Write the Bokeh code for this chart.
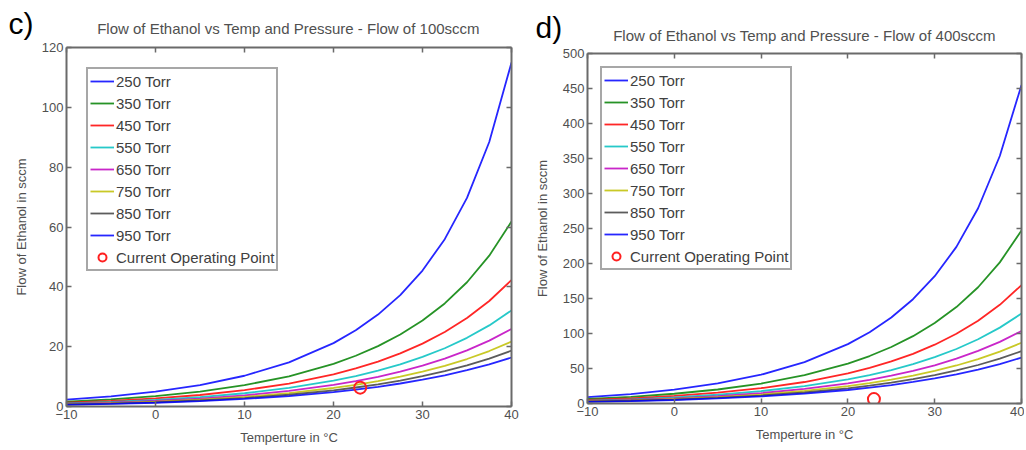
from bokeh.plotting import figure
from bokeh.models import LinearAxis, Range1d, Legend, LegendItem, FixedTicker
from bokeh.core.properties import value
from bokeh.layouts import row, column
from bokeh.embed import file_html
from bokeh.resources import INLINE

# ---------------- data ----------------
temps = [-10, -5, 0, 5, 10, 15, 20, 22.5, 25, 27.5, 30, 32.5, 35, 37.5, 40]
pressures = ["250 Torr", "350 Torr", "450 Torr", "550 Torr", "650 Torr", "750 Torr", "850 Torr", "950 Torr"]

# panel c) carrier flow 100 sccm
c_250 = [2.28, 3.38, 4.94, 7.15, 10.28, 14.74, 21.19, 25.46, 30.73, 37.25, 45.45, 55.93, 69.72, 88.40, 114.96]
c_350 = [1.62, 2.39, 3.48, 5.00, 7.14, 10.10, 14.27, 16.96, 20.18, 24.05, 28.73, 34.44, 41.53, 50.41, 61.81]
c_450 = [1.26, 1.85, 2.69, 3.85, 5.46, 7.68, 10.76, 12.71, 15.02, 17.75, 21.01, 24.89, 29.57, 35.26, 42.27]
c_550 = [1.02, 1.51, 2.19, 3.13, 4.43, 6.20, 8.63, 10.16, 11.96, 14.07, 16.56, 19.48, 22.96, 27.11, 32.12]
c_650 = [0.87, 1.27, 1.84, 2.63, 3.72, 5.20, 7.21, 8.47, 9.94, 11.66, 13.66, 16.00, 18.76, 22.02, 25.90]
c_750 = [0.75, 1.10, 1.59, 2.27, 3.21, 4.47, 6.19, 7.26, 8.50, 9.95, 11.63, 13.58, 15.87, 18.54, 21.69]
c_850 = [0.66, 0.97, 1.40, 2.00, 2.82, 3.93, 5.42, 6.35, 7.43, 8.67, 10.12, 11.79, 13.74, 16.01, 18.67]
c_950 = [0.59, 0.87, 1.25, 1.79, 2.52, 3.50, 4.82, 5.64, 6.59, 7.69, 8.96, 10.42, 12.12, 14.09, 16.38]

# panel d) carrier flow 400 sccm
d_250 = [9.1, 13.5, 19.8, 28.6, 41.1, 59.0, 84.8, 101.8, 122.9, 149.0, 181.8, 223.7, 278.9, 353.6, 455.0]
d_350 = [6.5, 9.6, 13.9, 20.0, 28.5, 40.4, 57.1, 67.8, 80.7, 96.2, 114.9, 137.8, 166.1, 201.6, 247.2]
d_450 = [5.0, 7.4, 10.8, 15.4, 21.9, 30.7, 43.0, 50.8, 60.1, 71.0, 84.0, 99.6, 118.3, 141.0, 169.1]
d_550 = [4.1, 6.0, 8.7, 12.5, 17.7, 24.8, 34.5, 40.6, 47.8, 56.3, 66.2, 77.9, 91.8, 108.4, 128.5]
d_650 = [3.5, 5.1, 7.4, 10.5, 14.9, 20.8, 28.8, 33.9, 39.8, 46.6, 54.6, 64.0, 75.1, 88.1, 103.6]
d_750 = [3.0, 4.4, 6.4, 9.1, 12.8, 17.9, 24.8, 29.0, 34.0, 39.8, 46.5, 54.3, 63.5, 74.2, 86.8]
d_850 = [2.6, 3.9, 5.6, 8.0, 11.3, 15.7, 21.7, 25.4, 29.7, 34.7, 40.5, 47.2, 55.0, 64.0, 74.7]
d_950 = [2.4, 3.5, 5.0, 7.2, 10.1, 14.0, 19.3, 22.6, 26.4, 30.8, 35.8, 41.7, 48.5, 56.4, 65.5]

op_temp = [23]
op_flow = [6.3]

x_ticks = [-10, 0, 10, 20, 30, 40]
c_y_ticks = [0, 20, 40, 60, 80, 100, 120]
d_y_ticks = [0, 50, 100, 150, 200, 250, 300, 350, 400, 450, 500]

c_tag, d_tag = "c)", "d)"
c_title = "Flow of Ethanol vs Temp and Pressure - Flow of 100sccm"
d_title = "Flow of Ethanol vs Temp and Pressure - Flow of 400sccm"

colors = ["#0000FF", "#008000", "#FF0000", "#00BFBF", "#BF00BF", "#BFBF00", "#404040", "#0000FF"]

FONT = "Liberation Sans"
AX = "#6a6a6a"
TXT = "#505050"


def style_axis(ax, ticks, labels=True):
    ax.ticker = FixedTicker(ticks=ticks)
    ax.axis_line_color = AX
    ax.axis_line_width = 2
    ax.major_tick_line_color = AX
    ax.major_tick_line_width = 1.5
    ax.major_tick_in = 5
    ax.major_tick_out = 0
    ax.minor_tick_line_color = None
    ax.major_label_text_font = FONT
    ax.axis_label_text_font = FONT
    ax.axis_label_text_color = TXT
    ax.axis_label_text_font_style = "normal"
    if labels:
        ax.major_label_text_color = TXT
        ax.major_label_text_font_size = "13px"
        ax.axis_label_text_font_size = "13px"
        ax.major_label_standoff = 3
    else:
        ax.major_label_text_color = None
        ax.major_label_text_font_size = "1px"
        ax.major_label_standoff = 0


def make_strip(width, height, tag, tag_x, tag_y, title, title_x, title_y):
    """Header strip (pixel ranges) holding the panel letter and the panel title."""
    s = figure(width=width, height=height, output_backend="svg", toolbar_location=None,
               x_range=Range1d(0, width), y_range=Range1d(0, height), min_border=0)
    s.axis.visible = False
    s.grid.visible = False
    s.outline_line_color = None
    s.text(x=[tag_x], y=[tag_y], text=[tag], text_font=value(FONT), text_font_size="30px",
           text_color="black", text_baseline="middle", text_align="left")
    s.text(x=[title_x], y=[title_y], text=[title], text_font=value(FONT), text_font_size="15px",
           text_color=TXT, text_baseline="middle", text_align="center")
    return s


def make_panel(series, ymax, yticks, width, height, bl, br, bt, bb, legend_margin):
    p = figure(width=width, height=height, output_backend="svg", toolbar_location=None,
               x_range=Range1d(-10, 40), y_range=Range1d(0, ymax),
               min_border_left=bl, min_border_right=br, min_border_top=bt, min_border_bottom=bb)
    p.outline_line_color = None
    p.grid.visible = False

    style_axis(p.xaxis[0], x_ticks)
    style_axis(p.yaxis[0], yticks)
    p.xaxis[0].axis_label = "Temperture in °C"
    p.xaxis[0].axis_label_standoff = 8
    p.yaxis[0].axis_label = "Flow of Ethanol in sccm"
    p.yaxis[0].axis_label_standoff = 10

    top = LinearAxis()
    style_axis(top, x_ticks, labels=False)
    p.add_layout(top, "above")
    right = LinearAxis()
    style_axis(right, yticks, labels=False)
    p.add_layout(right, "right")

    items = []
    for name, ys, col in zip(pressures, series, colors):
        r = p.line(temps, ys, line_color=col, line_width=1.8, line_alpha=0.85)
        items.append(LegendItem(label=name, renderers=[r]))
    m = p.scatter(op_temp, op_flow, marker="circle", size=12, fill_color=None,
                  line_color="#FF2020", line_width=2)
    items.append(LegendItem(label="Current Operating Point", renderers=[m]))

    leg = Legend(items=items, location="top_left")
    leg.margin = legend_margin
    leg.padding = 2
    leg.spacing = 2
    leg.glyph_height = 20
    leg.label_height = 20
    leg.glyph_width = 24
    leg.label_standoff = 2
    leg.label_text_font = FONT
    leg.label_text_font_size = "15px"
    leg.label_text_color = "#404040"
    leg.border_line_color = "#505050"
    leg.border_line_width = 2
    leg.background_fill_color = "white"
    p.add_layout(leg)
    return p


# left panel: frame x 66..511, y 47..406 (page px)
sc = make_strip(528, 40, c_tag, 8, 17, c_title, 288, 12)
pc = make_panel([c_250, c_350, c_450, c_550, c_650, c_750, c_850, c_950], 120, c_y_ticks,
                528, 408, 66, 17, 7, 42, 20)
# right panel: frame x 587..1021, y 53..403 (page px)
sd = make_strip(496, 45, d_tag, 7, 18, d_title, 276, 10)
pd_ = make_panel([d_250, d_350, d_450, d_550, d_650, d_750, d_850, d_950], 500, d_y_ticks,
                 496, 403, 59, 3, 8, 45, 13)

# every figure wrapped in its own column so that layouts do not align their frames
left = column(column(sc), column(pc), spacing=0)
right = column(column(sd), column(pd_), spacing=0)
layout = row(left, right, spacing=0)
open("out.html", "w").write(file_html(layout, INLINE))
